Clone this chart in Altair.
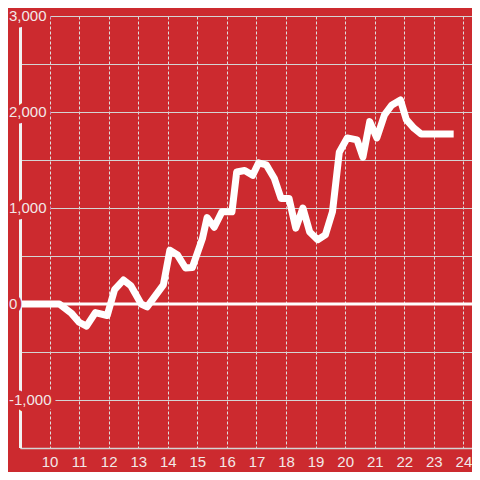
import altair as alt
import pandas as pd

# data
hours = [9.0, 10.33, 10.75, 11.0, 11.25, 11.55, 11.95, 12.2, 12.5, 12.75, 13.1, 13.3,
         13.85, 14.07, 14.33, 14.6, 14.83, 15.17, 15.33, 15.57, 15.83, 16.17, 16.33,
         16.6, 16.87, 17.07, 17.33, 17.6, 17.83, 18.1, 18.33, 18.57, 18.8, 19.07, 19.33,
         19.57, 19.8, 20.07, 20.4, 20.6, 20.83, 21.07, 21.33, 21.57, 21.87, 22.07,
         22.33, 22.57, 23.67]
values = [0, 0, -100, -190, -230, -90, -120, 150, 250, 190, 0, -30,
          200, 560, 510, 375, 380, 680, 900, 800, 960, 960, 1375,
          1390, 1340, 1470, 1450, 1310, 1100, 1100, 790, 1000, 750, 670, 720,
          960, 1580, 1730, 1710, 1530, 1900, 1730, 1970, 2070, 2125, 1920,
          1830, 1770, 1770]

y_label_values = [-1000, 0, 1000, 2000, 3000]
y_label_texts = ["-1,000", "0", "1,000", "2,000", "3,000"]
y_grid_values = [-1500, -1000, -500, 0, 500, 1000, 1500, 2000, 2500, 3000]
x_tick_values = list(range(10, 25))

BG = "#cc2a2f"
LABEL = "#f2e8e8"
W, H = 452, 432

df = pd.DataFrame({"hour": hours, "value": values})
labels = pd.DataFrame({"v": y_label_values, "label": y_label_texts})
one = pd.DataFrame({"a": [0]})

x_scale = alt.Scale(domain=[9, 24.29], nice=False, zero=False)
y_scale = alt.Scale(domain=[-1500, 3000], nice=False, zero=False)

x_axis = alt.Axis(values=x_tick_values, grid=True, gridDash=[3, 2], gridColor="#dedede",
                  gridWidth=1, ticks=False, domain=True, domainColor="#d4d4d4",
                  domainWidth=1.5, labelColor=LABEL, labelFontSize=15,
                  labelFont="Liberation Sans", labelPadding=6, labelFlush=False,
                  title=None)
y_axis = alt.Axis(values=y_grid_values, grid=True, gridColor="#d4d4d4", gridWidth=1,
                  labels=False, ticks=False, domain=False, title=None)

line = alt.Chart(df).mark_line(color="white", strokeWidth=7, strokeJoin="round",
                               strokeCap="butt").encode(
    x=alt.X("hour:Q", scale=x_scale, axis=x_axis),
    y=alt.Y("value:Q", scale=y_scale, axis=y_axis),
)

zero_line = alt.Chart(one).mark_rule(color="white", strokeWidth=3).encode(
    y=alt.Y(datum=0, scale=y_scale, axis=y_axis),
    x=alt.value(-12),
    x2=alt.value(W),
)

axis_line = alt.Chart(one).mark_rule(color="#f2f2f2", strokeWidth=3).encode(
    x=alt.value(0.5),
    y=alt.value(0),
    y2=alt.value(H),
)

label_bg = alt.Chart(labels).mark_text(
    align="left", baseline="middle", fontSize=15, font="Liberation Sans",
    fill=BG, stroke=BG, strokeWidth=9, strokeJoin="round").encode(
    x=alt.value(-11),
    y=alt.Y("v:Q", scale=y_scale, axis=y_axis),
    text="label:N",
)

label_text = alt.Chart(labels).mark_text(
    align="left", baseline="middle", fontSize=15, font="Liberation Sans",
    fill=LABEL).encode(
    x=alt.value(-11),
    y=alt.Y("v:Q", scale=y_scale, axis=y_axis),
    text="label:N",
)

chart = alt.layer(line, zero_line, axis_line, label_bg, label_text).properties(
    width=W, height=H, background=BG,
    autosize=alt.AutoSizeParams(type="none"),
    padding={"left": 12, "top": 8, "right": 0, "bottom": 24},
).configure_view(stroke=None)

chart.save("out.html", embed_options={"renderer": "svg", "actions": False})
